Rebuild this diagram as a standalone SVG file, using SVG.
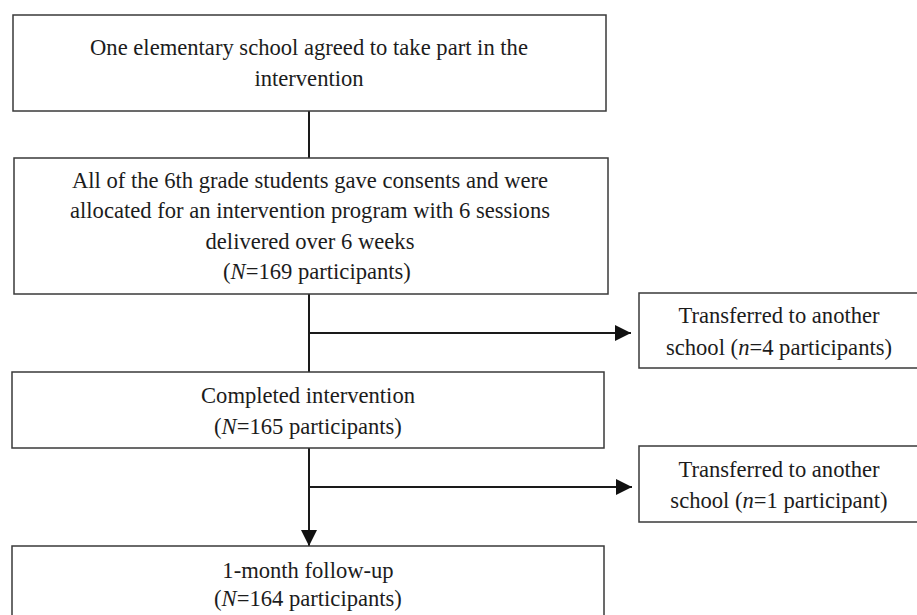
<svg xmlns="http://www.w3.org/2000/svg" width="917" height="615" viewBox="0 0 917 615">
<defs>
<style>
.box{fill:#fff;stroke:#3a3a3a;stroke-width:1.5}
.t{font-family:"Liberation Serif","Times New Roman",serif;font-size:22.6px;fill:#1c1c1c;text-anchor:middle}
.i{font-style:italic}
.c{fill:none;stroke:#1a1a1a;stroke-width:2}
</style>
<marker id="ah" viewBox="0 0 16 16" refX="16" refY="8" markerWidth="16" markerHeight="16" markerUnits="userSpaceOnUse" orient="auto">
<path d="M0,0 L16,8 L0,16 Z" fill="#111"/>
</marker>
</defs>
<rect width="917" height="615" fill="#fff"/>
<g id="connectors">
<line class="c" x1="309" y1="111" x2="309" y2="158"/>
<line class="c" x1="309" y1="294" x2="309" y2="372"/>
<line class="c" x1="309" y1="333" x2="631" y2="333" marker-end="url(#ah)"/>
<line class="c" x1="309" y1="448" x2="309" y2="546" marker-end="url(#ah)"/>
<line class="c" x1="309" y1="487" x2="632" y2="487" marker-end="url(#ah)"/>
</g>
<g id="node1">
<rect class="box" x="13" y="15" width="593" height="96"/>
<text class="t" x="309" y="55">One elementary school agreed to take part in the</text>
<text class="t" x="309" y="86">intervention</text>
</g>
<g id="node2">
<rect class="box" x="14" y="158" width="594" height="136"/>
<text class="t" x="310" y="188">All of the 6th grade students gave consents and were</text>
<text class="t" x="310" y="218">allocated for an intervention program with 6 sessions</text>
<text class="t" x="310" y="248.5">delivered over 6 weeks</text>
<text class="t" x="317" y="279">(<tspan class="i">N</tspan>=169 participants)</text>
</g>
<g id="node3">
<rect class="box" x="639" y="293" width="282" height="75"/>
<text class="t" x="779" y="323">Transferred to another</text>
<text class="t" x="779" y="355">school (<tspan class="i">n</tspan>=4 participants)</text>
</g>
<g id="node4">
<rect class="box" x="12" y="372" width="592" height="76"/>
<text class="t" x="308" y="403">Completed intervention</text>
<text class="t" x="308" y="434">(<tspan class="i">N</tspan>=165 participants)</text>
</g>
<g id="node5">
<rect class="box" x="639" y="446" width="282" height="76"/>
<text class="t" x="779" y="477">Transferred to another</text>
<text class="t" x="779" y="508">school (<tspan class="i">n</tspan>=1 participant)</text>
</g>
<g id="node6">
<rect class="box" x="12" y="546" width="592" height="80"/>
<text class="t" x="308" y="578">1-month follow-up</text>
<text class="t" x="308" y="606">(<tspan class="i">N</tspan>=164 participants)</text>
</g>
</svg>
